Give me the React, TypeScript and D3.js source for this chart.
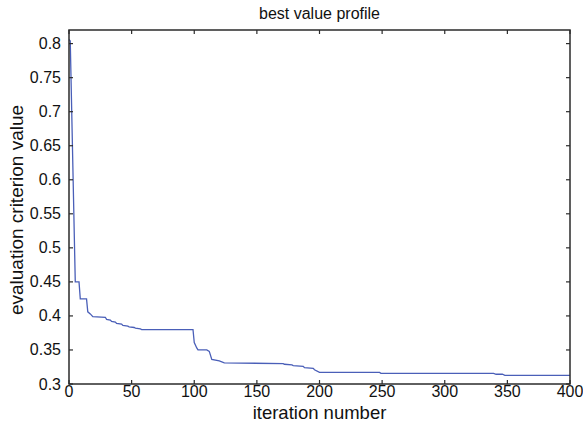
import React from "react";
import * as d3 from "d3";

// Best objective value found so far, per iteration
const iterations = [0, 1, 5, 8, 9, 14, 15, 17, 19, 29, 30, 33, 34, 37, 38, 42, 43, 47, 48, 52, 53, 57, 58, 99, 100, 102, 103, 110, 112, 114, 120, 124, 171, 172, 178, 179, 187, 188, 195, 196, 200, 248, 249, 339, 341, 346, 348, 400];
const bestValues = [0.806, 0.804, 0.45, 0.45, 0.425, 0.425, 0.406, 0.403, 0.399, 0.398, 0.395, 0.394, 0.392, 0.391, 0.389, 0.388, 0.386, 0.385, 0.384, 0.383, 0.382, 0.381, 0.38, 0.38, 0.361, 0.353, 0.35, 0.35, 0.348, 0.336, 0.334, 0.331, 0.33, 0.329, 0.328, 0.327, 0.326, 0.324, 0.323, 0.321, 0.317, 0.317, 0.3157, 0.3157, 0.3143, 0.3143, 0.3128, 0.3128];

const xTicks = [0, 50, 100, 150, 200, 250, 300, 350, 400];
const yTicks = [0.3, 0.35, 0.4, 0.45, 0.5, 0.55, 0.6, 0.65, 0.7, 0.75, 0.8];

const W = 583;
const H = 433;
const M = { left: 69, right: 570, top: 30, bottom: 384 };
const FONT = "Liberation Sans, Arial, Helvetica, sans-serif";

export default function App() {
  const x = d3.scaleLinear().domain([0, 400]).range([M.left, M.right]);
  const y = d3.scaleLinear().domain([0.3, 0.82]).range([M.bottom, M.top]);
  const pts = iterations.map((it, i) => [it, bestValues[i]] as [number, number]);
  const line = d3
    .line<[number, number]>()
    .x((d) => x(d[0]))
    .y((d) => y(d[1]));
  const tick = 4;
  const axisColor = "#2b2b2b";

  return (
    <svg
      width={W}
      height={H}
      style={{ position: "absolute", left: 0, top: 0, background: "#fff" }}
      fontFamily={FONT}
    >
      <rect x={0} y={0} width={W} height={H} fill="#fff" />
      <text x={(M.left + M.right) / 2} y={19} textAnchor="middle" fontSize={16} fill="#111">
        best value profile
      </text>

      <path d={line(pts) || ""} fill="none" stroke="#4a5fb8" strokeWidth={1.3} />

      {/* frame */}
      <rect
        x={M.left}
        y={M.top}
        width={M.right - M.left}
        height={M.bottom - M.top}
        fill="none"
        stroke={axisColor}
        strokeWidth={1.5}
      />

      {xTicks.map((t) => (
        <g key={"x" + t}>
          <line x1={x(t)} x2={x(t)} y1={M.bottom} y2={M.bottom - tick} stroke={axisColor} strokeWidth={1.2} />
          <line x1={x(t)} x2={x(t)} y1={M.top} y2={M.top + tick} stroke={axisColor} strokeWidth={1.2} />
          <text x={x(t)} y={397} textAnchor="middle" fontSize={16} fill="#111">
            {t}
          </text>
        </g>
      ))}

      {yTicks.map((t) => (
        <g key={"y" + t}>
          <line x1={M.left} x2={M.left + tick} y1={y(t)} y2={y(t)} stroke={axisColor} strokeWidth={1.2} />
          <line x1={M.right} x2={M.right - tick} y1={y(t)} y2={y(t)} stroke={axisColor} strokeWidth={1.2} />
          <text x={61} y={y(t) + 5.5} textAnchor="end" fontSize={16} fill="#111">
            {String(+t.toFixed(2))}
          </text>
        </g>
      ))}

      <text x={(M.left + M.right) / 2} y={419} textAnchor="middle" fontSize={18.5} fill="#111">
        iteration number
      </text>
      <text
        transform={`translate(23, ${(M.top + M.bottom) / 2 + 3}) rotate(-90)`}
        textAnchor="middle"
        fontSize={19}
        fill="#111"
      >
        evaluation criterion value
      </text>
    </svg>
  );
}
